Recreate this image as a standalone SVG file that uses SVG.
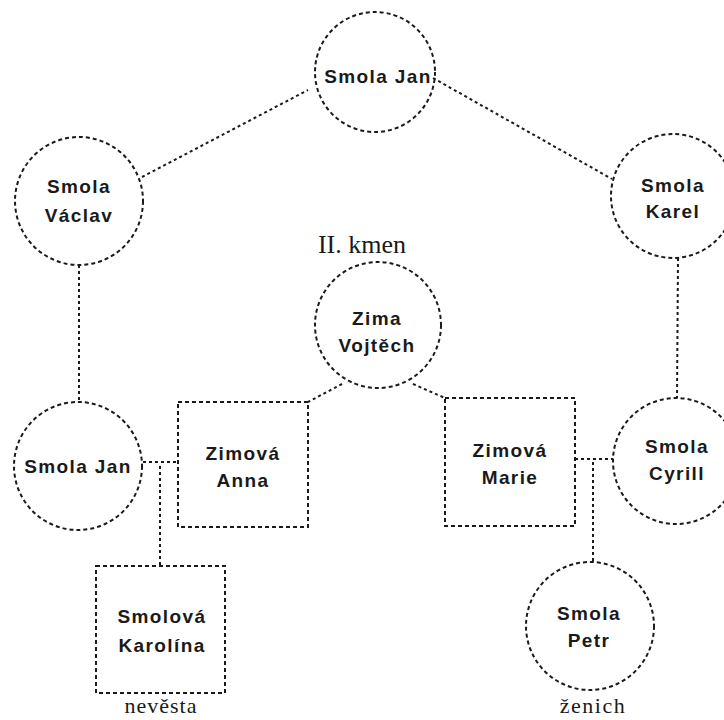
<svg xmlns="http://www.w3.org/2000/svg" width="724" height="720" viewBox="0 0 724 720">
<style>
.n{fill:none;stroke:#1a1a1a;stroke-width:2;stroke-dasharray:4 3}
.c{fill:none;stroke:#1a1a1a;stroke-width:2;stroke-dasharray:3 3}
.t{font-family:"Liberation Sans",Arial,sans-serif;font-weight:bold;font-size:19px;letter-spacing:1.4px;fill:#1a1a1a;text-anchor:middle}
.s{font-family:"Liberation Serif","Times New Roman",serif;fill:#1a1a1a;text-anchor:middle}
</style>
<rect width="724" height="720" fill="#ffffff"/>
<g id="connectors">
<line class="c" x1="142" y1="177" x2="308" y2="90"/>
<line class="c" x1="433" y1="78" x2="612" y2="179"/>
<line class="c" x1="79" y1="265" x2="79" y2="402"/>
<line class="c" x1="678" y1="258" x2="677" y2="398"/>
<line class="c" x1="342" y1="384" x2="308" y2="402"/>
<line class="c" x1="413" y1="384" x2="445" y2="398"/>
<line class="c" x1="143" y1="462" x2="178" y2="462"/>
<line class="c" x1="160" y1="466" x2="160" y2="566"/>
<line class="c" x1="575" y1="459" x2="613" y2="459"/>
<line class="c" x1="593" y1="462" x2="593" y2="563"/>
</g>
<g id="smola-jan-top"><circle class="n" cx="375" cy="72" r="60"/><text class="t" x="378" y="83">Smola Jan</text></g>
<g id="smola-vaclav"><circle class="n" cx="79" cy="201" r="64"/><text class="t" x="79" y="193">Smola</text><text class="t" x="79" y="222">Václav</text></g>
<g id="smola-karel"><circle class="n" cx="673" cy="196" r="62"/><text class="t" x="673" y="192">Smola</text><text class="t" x="673" y="218">Karel</text></g>
<g id="kmen"><text class="s" x="362" y="253" font-size="26">II. kmen</text></g>
<g id="zima-vojtech"><circle class="n" cx="378" cy="325" r="63"/><text class="t" x="377" y="325">Zima</text><text class="t" x="377" y="352">Vojtěch</text></g>
<g id="smola-jan"><circle class="n" cx="78" cy="466" r="64"/><text class="t" x="78" y="473">Smola Jan</text></g>
<g id="zimova-anna"><rect class="n" x="178" y="402" width="130" height="125"/><text class="t" x="243" y="460">Zimová</text><text class="t" x="243" y="487">Anna</text></g>
<g id="zimova-marie"><rect class="n" x="445" y="398" width="130" height="128"/><text class="t" x="510" y="457">Zimová</text><text class="t" x="510" y="484">Marie</text></g>
<g id="smola-cyrill"><circle class="n" cx="676" cy="461" r="63"/><text class="t" x="677" y="453">Smola</text><text class="t" x="677" y="480">Cyrill</text></g>
<g id="smolova-karolina"><rect class="n" x="96" y="566" width="129" height="127"/><text class="t" x="162" y="623">Smolová</text><text class="t" x="162" y="652">Karolína</text><text class="s" x="161" y="713" font-size="22" letter-spacing="1">nevěsta</text></g>
<g id="smola-petr"><circle class="n" cx="590" cy="626" r="64"/><text class="t" x="589" y="620">Smola</text><text class="t" x="589" y="647">Petr</text><text class="s" x="593" y="713" font-size="22" letter-spacing="1.5">ženich</text></g>
</svg>
